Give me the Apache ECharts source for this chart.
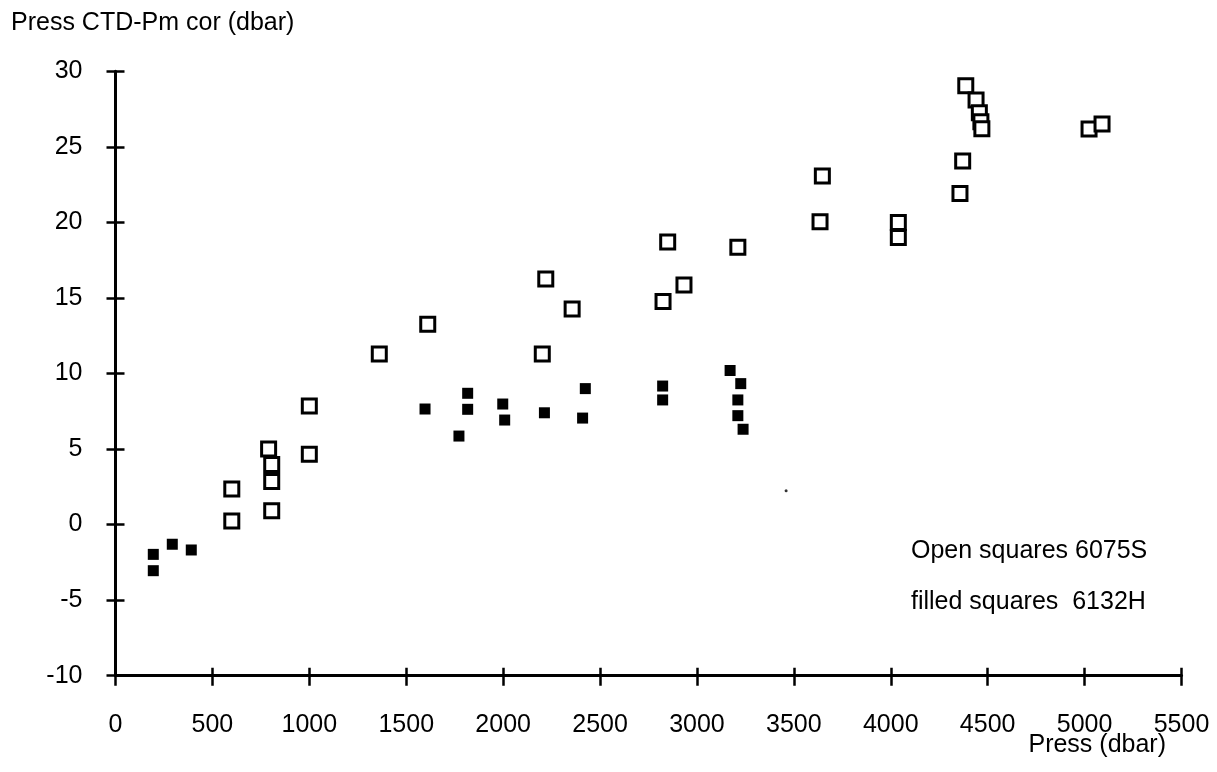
<!DOCTYPE html>
<html>
<head>
<meta charset="utf-8">
<script src="https://cdn.jsdelivr.net/npm/echarts@6/dist/echarts.min.js"></script>
<style>
html,body{margin:0;padding:0;background:#fff;}
#c{width:1217px;height:772px;}
</style>
</head>
<body>
<div id="c"></div>
<script>
// Open squares: station 6075S  [Press (dbar), Press CTD-Pm cor (dbar)]
const openSquares6075S = [
  [600, 2.36], [600, 0.24], [790, 5.0], [806, 3.97], [806, 2.86], [806, 0.92],
  [1000, 7.85], [1000, 4.65], [1361, 11.29], [1611, 13.26], [2202, 11.29],
  [2220, 16.25], [2356, 14.27], [2825, 14.76], [2849, 18.7], [2933, 15.86],
  [3211, 18.35], [3635, 20.05], [3647, 23.07], [4039, 20.0], [4039, 19.0],
  [4357, 21.92], [4371, 24.06], [4387, 29.05], [4440, 28.1], [4457, 27.25],
  [4465, 26.66], [4470, 26.2], [5023, 26.18], [5090, 26.51]
];
// Filled squares: station 6132H
const filledSquares6132H = [
  [195, -1.97], [195, -3.05], [293, -1.3], [391, -1.68], [1597, 7.65],
  [1772, 5.86], [1817, 8.69], [1817, 7.63], [1998, 7.98], [2008, 6.92],
  [2213, 7.4], [2410, 7.05], [2424, 9.0], [2823, 9.17], [2823, 8.25],
  [3171, 10.2], [3226, 9.33], [3211, 8.25], [3211, 7.21], [3238, 6.31]
];
// stray speck visible in the reference
const speck = [[3460, 2.24]];

const xTicks = {min: 0, max: 5500, interval: 500};
const yTicks = {min: -10, max: 30, interval: 5};
const noteLines = ['Open squares 6075S', 'filled squares  6132H'];
const yTitle = 'Press CTD-Pm cor (dbar)';
const xTitle = 'Press (dbar)';

const FONT = '"Liberation Sans", Arial, Helvetica, sans-serif';
const FS = 25;
const chart = echarts.init(document.getElementById('c'));

const axisLineStyle = {color: '#000', width: 3};
const tickStyle = {color: '#000', width: 2.5};

chart.setOption({
  animation: false,
  backgroundColor: '#fff',
  title: {
    text: yTitle, left: 11, top: 11, padding: 0,
    textStyle: {fontFamily: FONT, fontSize: FS, fontWeight: 'normal', color: '#000'}
  },
  grid: {left: 115.5, right: 35.5, top: 71.3, bottom: 96.3, containLabel: false},
  xAxis: [
    {
      type: 'value', position: 'bottom', min: xTicks.min, max: xTicks.max, interval: xTicks.interval,
      axisLine: {show: true, onZero: false, lineStyle: axisLineStyle},
      axisTick: {show: true, inside: false, length: 10, lineStyle: tickStyle},
      axisLabel: {margin: 37, fontFamily: FONT, fontSize: FS, color: '#000',
                  formatter: v => String(v)},
      splitLine: {show: false}
    },
    {
      type: 'value', position: 'bottom', min: xTicks.min, max: xTicks.max, interval: xTicks.interval,
      axisLine: {show: false, onZero: false},
      axisTick: {show: true, inside: true, length: 8, lineStyle: tickStyle},
      axisLabel: {show: false},
      splitLine: {show: false}
    }
  ],
  yAxis: [
    {
      type: 'value', position: 'left', min: yTicks.min, max: yTicks.max, interval: yTicks.interval,
      axisLine: {show: true, onZero: false, lineStyle: axisLineStyle},
      axisTick: {show: true, inside: false, length: 9, lineStyle: tickStyle},
      axisLabel: {margin: 33, fontFamily: FONT, fontSize: FS, color: '#000',
                  formatter: v => String(v)},
      splitLine: {show: false}
    },
    {
      type: 'value', position: 'left', min: yTicks.min, max: yTicks.max, interval: yTicks.interval,
      axisLine: {show: false, onZero: false},
      axisTick: {show: true, inside: true, length: 9, lineStyle: tickStyle},
      axisLabel: {show: false},
      splitLine: {show: false}
    }
  ],
  graphic: [
    {type: 'text', right: 51, top: 733,
     style: {text: xTitle, font: FS + 'px ' + FONT, fill: '#000'}},
    {type: 'text', left: 911, top: 539,
     style: {text: noteLines[0], font: FS + 'px ' + FONT, fill: '#000'}},
    {type: 'text', left: 911, top: 590,
     style: {text: noteLines[1], font: FS + 'px ' + FONT, fill: '#000'}}
  ],
  series: [
    {
      name: '6075S', type: 'scatter', xAxisIndex: 0, yAxisIndex: 0,
      data: openSquares6075S, symbol: 'rect', symbolSize: 14,
      itemStyle: {color: '#fff', borderColor: '#000', borderWidth: 3, opacity: 1},
      z: 3
    },
    {
      name: '6132H', type: 'scatter', xAxisIndex: 0, yAxisIndex: 0,
      data: filledSquares6132H, symbol: 'rect', symbolSize: 11,
      itemStyle: {color: '#000', opacity: 1},
      z: 4
    },
    {
      name: 'speck', type: 'scatter', xAxisIndex: 0, yAxisIndex: 0,
      data: speck, symbol: 'circle', symbolSize: 3,
      itemStyle: {color: '#000'}, silent: true
    }
  ]
});
</script>
</body>
</html>
